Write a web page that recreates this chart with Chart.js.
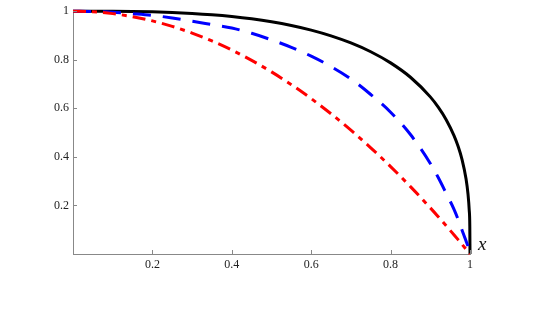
<!DOCTYPE html>
<html>
<head>
<meta charset="utf-8">
<script src="https://cdn.jsdelivr.net/npm/chart.js@4/dist/chart.umd.min.js"></script>
<style>
  html, body { margin: 0; padding: 0; background: #fff; }
  #wrap { width: 545px; height: 331px; position: relative; }
</style>
</head>
<body>
<div id="wrap"><canvas id="chart"></canvas></div>
<script>
// x positions (shared by all three curves), denser near x = 1
const xs = [0, 0.05, 0.1, 0.15, 0.2, 0.25, 0.3, 0.35, 0.4, 0.45, 0.5, 0.55, 0.6, 0.65, 0.7, 0.75,
  0.8, 0.85, 0.9, 0.92, 0.94, 0.96, 0.97, 0.98, 0.99, 0.995, 0.998, 0.9995, 1];

// black solid
const blackVals = [1, 1, 0.9997, 0.9989, 0.9973, 0.9948, 0.9909, 0.9855, 0.9782, 0.9687, 0.9565, 0.9411,
  0.9221, 0.8985, 0.8694, 0.8331, 0.7872, 0.728, 0.6471, 0.6049, 0.5533, 0.4867, 0.4436, 0.389, 0.3097,
  0.2462, 0.1816, 0.1145, 0];

// blue dashed
const blueVals = [1, 0.999, 0.996, 0.990, 0.983, 0.972, 0.959, 0.945, 0.931, 0.909, 0.882, 0.851,
  0.815, 0.772, 0.721, 0.657, 0.584, 0.492, 0.373, 0.315, 0.25, 0.183, 0.143, 0.098, 0.054,
  0.031, 0.012, 0.003, 0];

// red dash-dot
const redVals = [1, 0.9975, 0.99, 0.9775, 0.96, 0.9375, 0.91, 0.8775, 0.84, 0.7975, 0.75, 0.6975,
  0.64, 0.5775, 0.51, 0.4375, 0.36, 0.2775, 0.19, 0.1536, 0.1164, 0.0784, 0.0591, 0.0396, 0.0199,
  0.01, 0.004, 0.001, 0];

const xTickValues = [0.2, 0.4, 0.6, 0.8, 1];
const xTickLabels = ['0.2', '0.4', '0.6', '0.8', '1'];
const yTickValues = [0.2, 0.4, 0.6, 0.8, 1];
const yTickLabels = ['0.2', '0.4', '0.6', '0.8', '1'];
const axisLabel = 'x';

const toPoints = vals => vals.map((v, i) => ({ x: xs[i], y: v }));

const font = { family: '"Liberation Serif", "DejaVu Serif", serif', size: 12 };

// small inward ticks + the "x" label at the end of the axis
const axisExtras = {
  id: 'axisExtras',
  afterDraw(chart) {
    const ctx = chart.ctx;
    const xs_ = chart.scales.x, ys_ = chart.scales.y;
    ctx.save();
    ctx.strokeStyle = '#888';
    ctx.lineWidth = 1;
    ctx.beginPath();
    xTickValues.forEach(v => {
      const px = Math.round(xs_.getPixelForValue(v)) + 0.5;
      ctx.moveTo(px, ys_.bottom);
      ctx.lineTo(px, ys_.bottom - 4);
    });
    yTickValues.forEach(v => {
      const py = Math.round(ys_.getPixelForValue(v)) + 0.5;
      ctx.moveTo(xs_.left, py);
      ctx.lineTo(xs_.left + 4, py);
    });
    ctx.stroke();
    ctx.fillStyle = '#111';
    ctx.font = 'italic 19px "Liberation Serif", serif';
    ctx.textAlign = 'left';
    ctx.textBaseline = 'middle';
    ctx.fillText(axisLabel, xs_.right + 8, ys_.bottom - 9);
    ctx.restore();
  }
};

const lineBase = { borderWidth: 3, pointRadius: 0, clip: false, cubicInterpolationMode: 'monotone' };

new Chart(document.getElementById('chart'), {
  type: 'line',
  data: {
    datasets: [
      Object.assign({ label: 'red', data: toPoints(redVals), borderColor: '#ff0000',
        borderDash: [13, 6, 5, 6], order: 0 }, lineBase),
      Object.assign({ label: 'blue', data: toPoints(blueVals), borderColor: '#0000ff',
        borderDash: [18, 12], order: 1 }, lineBase),
      Object.assign({ label: 'black', data: toPoints(blackVals), borderColor: '#000000',
        order: 2 }, lineBase)
    ]
  },
  options: {
    responsive: true,
    maintainAspectRatio: false,
    animation: false,
    layout: { padding: { top: 7, right: 75, left: 0, bottom: 0 } },
    plugins: { legend: { display: false }, tooltip: { enabled: false } },
    scales: {
      x: {
        type: 'linear', min: 0, max: 1,
        afterBuildTicks: s => { s.ticks = xTickValues.map(v => ({ value: v })); },
        afterFit: s => { s.height = 77; },
        grid: { display: true, drawOnChartArea: false, drawTicks: false },
        border: { display: true, color: '#888', width: 1 },
        ticks: {
          padding: 4, color: '#222', font: font, maxRotation: 0, autoSkip: false,
          callback: (v, i) => xTickLabels[i]
        }
      },
      y: {
        type: 'linear', min: 0, max: 1,
        afterBuildTicks: s => { s.ticks = yTickValues.map(v => ({ value: v })); },
        afterFit: s => { s.width = 73; },
        grid: { display: true, drawOnChartArea: false, drawTicks: false },
        border: { display: true, color: '#888', width: 1 },
        ticks: {
          padding: 4, color: '#222', font: font, autoSkip: false,
          callback: (v, i) => yTickLabels[i]
        }
      }
    }
  },
  plugins: [axisExtras]
});
</script>
</body>
</html>
